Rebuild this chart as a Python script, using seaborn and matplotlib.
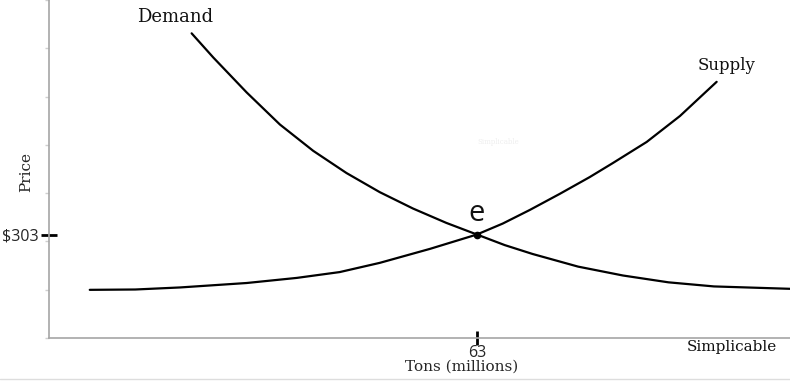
import matplotlib
matplotlib.use("Agg")
import matplotlib.pyplot as plt
import seaborn as sns
import pandas as pd
from matplotlib.lines import Line2D
from matplotlib.ticker import MultipleLocator

# ---- data ----
demand_q = [21.0, 24.2, 29.1, 34.0, 38.9, 43.8, 48.7, 53.6, 58.5, 63.0, 67.1, 71.2,
            77.9, 84.5, 91.2, 97.9, 109.1]
demand_p = [892, 821, 719, 625, 548, 483, 427, 379, 337, 303, 272, 246,
            209, 183, 163, 151, 144]
supply_q = [6.0, 12.7, 19.3, 29.1, 36.5, 42.8, 48.7, 56.1, 63.0, 66.8, 70.8, 75.2,
            79.6, 83.0, 88.0, 92.9, 96.3, 98.3]
supply_p = [141, 142, 148, 161, 176, 193, 220, 261, 303, 335, 375, 422,
            471, 512, 574, 650, 713, 750]
eq_q = 63
eq_p = 303
x_tick_labels = ["63"]
y_tick_labels = ["$303"]
curve_names = ["Demand", "Supply"]

sns.set_theme(style="white")
plt.rcParams["font.family"] = ["DejaVu Serif"]

fig = plt.figure(figsize=(7.9, 3.81), dpi=100)
ax = fig.add_axes([49 / 790, 43 / 381, 741 / 790, 338 / 381])

demand = pd.DataFrame({"q": demand_q, "p": demand_p})
supply = pd.DataFrame({"q": supply_q, "p": supply_p})
sns.lineplot(data=demand, x="q", y="p", sort=False, estimator=None,
             color="black", linewidth=1.6, ax=ax)
sns.lineplot(data=supply, x="q", y="p", sort=False, estimator=None,
             color="black", linewidth=1.6, ax=ax)
ax.plot([eq_q], [eq_p], "o", color="black", markersize=4.5)

ax.set_xlim(0, 109.1)
ax.set_ylim(0, 989.6)

for s in ["top", "right"]:
    ax.spines[s].set_visible(False)
for s in ["left", "bottom"]:
    ax.spines[s].set_color("#a6a6a6")
    ax.spines[s].set_linewidth(1.2)

sans = ["Open Sans", "DejaVu Sans"]
ax.set_xticks([eq_q])
ax.set_xticklabels(x_tick_labels, fontfamily=sans, fontsize=11.5)
ax.set_yticks([eq_p])
ax.set_yticklabels(y_tick_labels, fontfamily=sans, fontsize=11.5)
ax.yaxis.set_minor_locator(MultipleLocator(989.6 / 7))
ax.tick_params(axis="x", which="major", direction="inout", length=10, width=2,
               color="black", pad=0, bottom=True)
ax.tick_params(axis="y", which="major", direction="inout", length=12, width=2,
               color="black", pad=1.5, left=True)
ax.tick_params(axis="y", which="minor", direction="out", length=3, width=1,
               color="#cfcfcf", left=True)

ax.set_xlabel("Tons (millions)", fontsize=11)
ax.xaxis.set_label_coords((462 - 49) / 741, -(367 - 338) / 338)
ax.xaxis.label.set_va("center")
ax.set_ylabel("Price", fontsize=11)
ax.yaxis.set_label_coords((26 - 49) / 741, (338 - 172) / 338)
ax.yaxis.label.set_va("center")

ax.text(18.6, 940, curve_names[0], fontsize=13, ha="center", va="center", color="#111111")
ax.text(99.7, 797, curve_names[1], fontsize=12, ha="center", va="center", color="#111111")
ax.annotate("e", (eq_q, eq_p), xytext=(0, 5), textcoords="offset points",
            ha="center", va="bottom", fontsize=21, fontfamily=sans, color="#111111")

fig.text(777 / 790, (381 - 347) / 381, "Simplicable", fontsize=11, ha="right",
         va="center", color="#111111")
fig.text(498 / 790, (381 - 142) / 381, "Simplicable", fontsize=5, ha="center",
         va="center", color="#eeeeee")
fig.add_artist(Line2D([0, 1], [2 / 381, 2 / 381], color="#dddddd", linewidth=1,
                      transform=fig.transFigure))

fig.savefig("out.png", dpi=100)
